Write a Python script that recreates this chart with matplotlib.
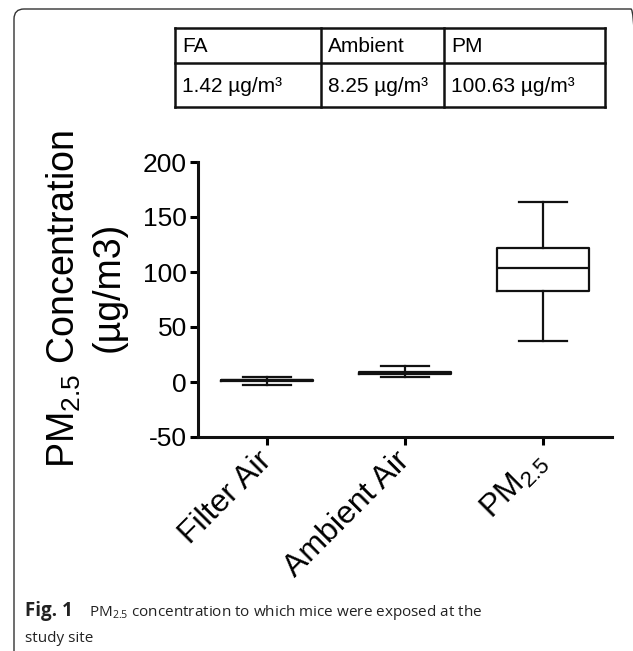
import numpy as np
import matplotlib
matplotlib.use('Agg')
import matplotlib.pyplot as plt
from matplotlib.patches import FancyBboxPatch

plt.rcParams['font.family'] = ['Liberation Sans', 'DejaVu Sans']
plt.rcParams['mathtext.fontset'] = 'custom'
plt.rcParams['mathtext.rm'] = 'Liberation Sans'
plt.rcParams['mathtext.sf'] = 'Open Sans'
plt.rcParams['axes.unicode_minus'] = False

# box plot summary values
groups = ['Filter Air', 'Ambient Air', 'PM$_{2.5}$']
whisker_low = [-2.7, 4.8, 37.3]
q1 = [0.9, 7.4, 82.7]
median = [1.4, 8.2, 103.6]
q3 = [2.0, 9.0, 121.8]
whisker_high = [4.3, 14.5, 163.6]

# inset table
table_header = ['FA', 'Ambient', 'PM']
table_values = ['1.42 µg/m³', '8.25 µg/m³', '100.63 µg/m³']

W, H = 633, 651
fig = plt.figure(figsize=(W / 100, H / 100), dpi=100)


def fig_rect(x0, y0, x1, y1):
    # pixel box (top-left origin) -> figure fraction rect
    return [x0 / W, 1 - y1 / H, (x1 - x0) / W, (y1 - y0) / H]


# outer frame of the figure panel
frame = FancyBboxPatch((0.14, -0.5), 6.27, 6.42 + 0.5,
                       boxstyle="round,pad=0,rounding_size=0.1",
                       transform=fig.dpi_scale_trans, fill=False,
                       edgecolor='#333333', lw=1.0)
fig.patches.append(frame)

# main box plot
ax = fig.add_axes(fig_rect(198, 162, 612, 437))
stats = []
for i in range(len(groups)):
    stats.append(dict(whislo=whisker_low[i], q1=q1[i], med=median[i],
                      q3=q3[i], whishi=whisker_high[i], fliers=[]))
lw = 1.6
ax.bxp(stats, positions=np.arange(1, len(groups) + 1), widths=0.67,
       capwidths=0.35, showfliers=False,
       boxprops=dict(color='#111111', lw=lw),
       whiskerprops=dict(color='#111111', lw=lw),
       capprops=dict(color='#111111', lw=lw),
       medianprops=dict(color='#111111', lw=lw))

ax.set_xlim(0.5, 3.5)
ax.set_ylim(-50, 200)
ax.set_yticks([-50, 0, 50, 100, 150, 200])
ax.set_xticks([1, 2, 3])
ax.set_xticklabels(groups, rotation=45, ha='right', va='center',
                   rotation_mode='anchor', fontsize=23)
ax.tick_params(axis='y', labelsize=19, length=6, width=2.2, pad=2)
ax.tick_params(axis='x', length=6, width=2.2, pad=8)
for s in ['top', 'right']:
    ax.spines[s].set_visible(False)
for s in ['left', 'bottom']:
    ax.spines[s].set_linewidth(2.2)
    ax.spines[s].set_color('#111111')
ax.set_ylabel('PM$_{2.5}$ Concentration', fontsize=27)
ax.yaxis.set_label_coords(-0.278, 0.5)
ax.text(-0.216, 0.545, '(µg/m3)', fontsize=27, rotation=90, ha='center',
        va='center', rotation_mode='anchor', transform=ax.transAxes)

# table above the plot
tax = fig.add_axes(fig_rect(175, 28, 605, 107))
tax.set_xlim(175, 605)
tax.set_ylim(107, 28)
tax.axis('off')
col_edges = [175, 321, 444, 605]
row_edges = [28, 63, 107]
for y in row_edges:
    tax.plot([col_edges[0], col_edges[-1]], [y, y], color='#111111', lw=1.8,
             clip_on=False, solid_capstyle='projecting')
for x in col_edges:
    tax.plot([x, x], [row_edges[0], row_edges[-1]], color='#111111', lw=1.8,
             clip_on=False, solid_capstyle='projecting')
for j in range(3):
    tax.text(col_edges[j] + 7, (row_edges[0] + row_edges[1]) / 2 + 1,
             table_header[j], fontsize=15, va='center', ha='left')
    tax.text(col_edges[j] + 7, (row_edges[1] + row_edges[2]) / 2 + 1,
             table_values[j], fontsize=15, va='center', ha='left')

# caption
cap_font = dict(family='Open Sans', color='#222222')
fig.text(25 / W, 1 - 616 / H, 'Fig. 1', fontweight='bold', va='baseline',
         fontsize=13.5, **cap_font)
fig.text(89 / W, 1 - 616 / H,
         r'PM$_{\mathsf{2.5}}$ concentration to which mice were exposed at the',
         va='baseline', fontsize=11, **cap_font)
fig.text(25 / W, 1 - 642 / H, 'study site', va='baseline', fontsize=11,
         **cap_font)

fig.savefig('out.png', dpi=100)
